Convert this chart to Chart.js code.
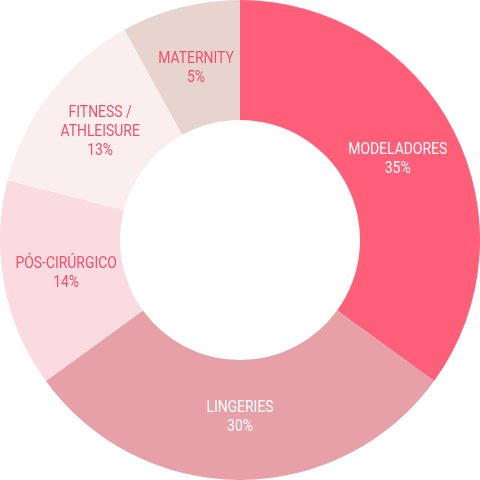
<!DOCTYPE html>
<html>
<head>
<meta charset="utf-8">
<script src="https://cdn.jsdelivr.net/npm/chart.js@4"></script>
<style>
  html, body { margin: 0; padding: 0; background: #fff; }
  #wrap { width: 480px; height: 480px; }
</style>
</head>
<body>
<div id="wrap"><canvas id="myChart"></canvas></div>
<script>
var categories = [['MODELADORES'], ['LINGERIES'], ['PÓS-CIRÚRGICO'], ['FITNESS /', 'ATHLEISURE'], ['MATERNITY']];
var values = [35, 30, 14, 13, 8];
var percentLabels = ['35%', '30%', '14%', '13%', '5%'];
var sliceColors = ['#ff5f78', '#e8a0a8', '#fbdbe2', '#fbeeee', '#e8d4ce'];
var textColors = ['#ffffff', '#ffffff', '#f0506a', '#f0506a', '#f0506a'];

// draws the category + percent text in the middle of each slice
var sliceLabels = {
  id: 'sliceLabels',
  afterDatasetsDraw: function(chart) {
    var ctx = chart.ctx;
    var meta = chart.getDatasetMeta(0);
    ctx.save();
    ctx.font = '16px Roboto';
    ctx.textAlign = 'center';
    ctx.textBaseline = 'middle';
    meta.data.forEach(function(arc, i) {
      var mid = (arc.startAngle + arc.endAngle) / 2;
      var r = (arc.innerRadius + arc.outerRadius) / 2 - 3;
      var px = arc.x + Math.cos(mid) * r;
      var py = arc.y + Math.sin(mid) * r;
      var lines = categories[i].concat([percentLabels[i]]);
      var lineH = 19;
      var top = py - (lines.length - 1) * lineH / 2;
      ctx.fillStyle = textColors[i];
      lines.forEach(function(t, j) {
        ctx.save();
        ctx.translate(px, top + j * lineH);
        ctx.scale(0.87, 1);
        ctx.fillText(t, 0, 0);
        ctx.restore();
      });
    });
    ctx.restore();
  }
};

var ctx = document.getElementById('myChart').getContext('2d');
window.myDoughnut = new Chart(ctx, {
  type: 'doughnut',
  data: {
    labels: categories.map(function(c) { return c.join(' '); }),
    datasets: [{
      data: values,
      backgroundColor: sliceColors,
      borderWidth: 0
    }]
  },
  options: {
    responsive: true,
    maintainAspectRatio: false,
    animation: false,
    cutout: '50%',
    layout: { padding: 0 },
    plugins: {
      legend: { display: false },
      tooltip: { enabled: false }
    }
  },
  plugins: [sliceLabels]
});
</script>
</body>
</html>
